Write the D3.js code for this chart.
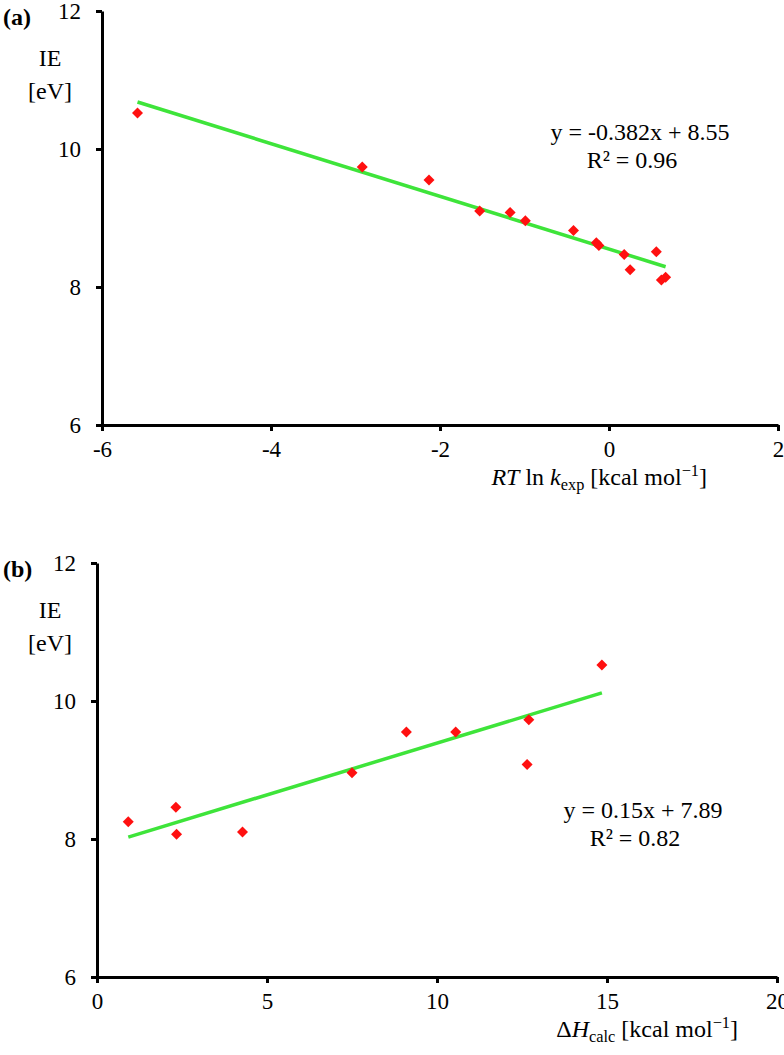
<!DOCTYPE html>
<html>
<head>
<meta charset="utf-8">
<script src="https://cdn.jsdelivr.net/npm/d3@7"></script>
<style>
  html, body { margin: 0; padding: 0; background: #fff; }
  svg text { font-family: "Liberation Serif", "Times New Roman", serif; fill: #000; }
</style>
</head>
<body>
<svg id="chart" width="784" height="1055"></svg>
<script>
// ---- Data ----
const yTicks = [6, 8, 10, 12];
const xTicksA = [-6, -4, -2, 0, 2];
const xTicksB = [0, 5, 10, 15, 20];

// Panel (a): RT ln k_exp vs IE
const rtlnkA = [-5.58, -2.92, -2.13, -1.53, -1.17, -0.99, -0.42, -0.15, -0.12, 0.18, 0.25, 0.56, 0.62, 0.67];
const ieA    = [10.52, 9.74, 9.55, 9.10, 9.08, 8.96, 8.82, 8.64, 8.60, 8.47, 8.25, 8.51, 8.10, 8.14];
const fitA = { slope: -0.382, intercept: 8.55, r2: 0.96 };

// Panel (b): ΔH_calc vs IE
const dhB = [0.92, 2.32, 2.34, 4.28, 7.5, 9.1, 10.55, 12.7, 12.65, 14.85];
const ieB = [8.25, 8.46, 8.07, 8.10, 8.96, 9.55, 9.55, 9.73, 9.08, 10.52];
const fitB = { slope: 0.15, intercept: 7.89, r2: 0.82 };

const svg = d3.select("#chart");
const FS = 24;
const TFS = 23;
const GREEN = "#3ee43a";
const RED = "#ff1010";

function panel(cfg) {
  const x = d3.scaleLinear().domain(cfg.xDomain).range(cfg.xRange);
  const y = d3.scaleLinear().domain([6, 12]).range(cfg.yRange);
  const g = svg.append("g");

  const yAxis = d3.axisLeft(y).tickValues(yTicks).tickSizeInner(6).tickSizeOuter(0)
    .tickPadding(15).tickFormat(d => String(d));
  const ya = g.append("g").attr("transform", `translate(${cfg.xRange[0]},0)`).call(yAxis);

  const xAxis = d3.axisBottom(x).tickValues(cfg.xTicks).tickSizeInner(6).tickSizeOuter(0)
    .tickPadding(10).tickFormat(d => String(d));
  const xa = g.append("g").attr("transform", `translate(0,${cfg.yRange[0]})`).call(xAxis);

  [ya, xa].forEach(a => {
    a.selectAll("path.domain").attr("stroke", "#000").attr("stroke-width", 3);
    a.selectAll(".tick line").attr("stroke", "#000").attr("stroke-width", 3);
    a.selectAll(".tick text").attr("font-size", TFS).attr("font-family", "Liberation Serif");
  });

  // trendline
  const xs = cfg.xs, ys = cfg.ys;
  const x0 = d3.min(xs), x1 = d3.max(xs);
  g.append("line")
    .attr("x1", x(x0)).attr("y1", y(cfg.fit.slope * x0 + cfg.fit.intercept))
    .attr("x2", x(x1)).attr("y2", y(cfg.fit.slope * x1 + cfg.fit.intercept))
    .attr("stroke", GREEN).attr("stroke-width", 3.5);

  // diamonds
  const r = 5.5;
  g.selectAll("path.pt").data(xs.map((v, i) => [v, ys[i]])).join("path")
    .attr("class", "pt")
    .attr("d", d => `M${x(d[0])},${y(d[1]) - r}L${x(d[0]) + r},${y(d[1])}L${x(d[0])},${y(d[1]) + r}L${x(d[0]) - r},${y(d[1])}Z`)
    .attr("fill", RED);

  // panel label
  g.append("text").attr("x", 3).attr("y", cfg.yRange[1] + 14)
    .attr("font-size", FS).attr("font-weight", "bold").text(cfg.tag);

  // y title
  g.append("text").attr("x", 50).attr("y", cfg.yRange[1] + 47).attr("dy", "0.35em")
    .attr("text-anchor", "middle").attr("font-size", FS).text("IE");
  g.append("text").attr("x", 50).attr("y", cfg.yRange[1] + 80).attr("dy", "0.35em")
    .attr("text-anchor", "middle").attr("font-size", FS).text("[eV]");

  // equation
  const eqSign = cfg.fit.intercept >= 0 ? "+" : "-";
  g.append("text").attr("x", cfg.eqX).attr("y", cfg.eqY).attr("dy", "0.35em")
    .attr("text-anchor", "middle").attr("font-size", FS)
    .text(`y = ${cfg.fit.slope}x ${eqSign} ${cfg.fit.intercept}`);
  g.append("text").attr("x", cfg.eqX - 8).attr("y", cfg.eqY + 28).attr("dy", "0.35em")
    .attr("text-anchor", "middle").attr("font-size", FS)
    .text(`R² = ${cfg.fit.r2.toFixed(2)}`);

  cfg.title(g, cfg.yRange[0] + 60);
}

panel({
  tag: "(a)", xDomain: [-6, 2], xRange: [102, 778], yRange: [425, 11], xTicks: xTicksA,
  xs: rtlnkA, ys: ieA, fit: fitA, eqX: 640, eqY: 132,
  title: (g, yy) => {
    const t = g.append("text").attr("x", 707).attr("y", yy).attr("text-anchor", "end").attr("font-size", FS);
    t.append("tspan").attr("font-style", "italic").text("RT");
    t.append("tspan").text(" ln ");
    t.append("tspan").attr("font-style", "italic").text("k");
    t.append("tspan").attr("font-size", FS * 0.68).attr("dy", 5).text("exp");
    t.append("tspan").attr("dy", -5).text(" [kcal mol");
    t.append("tspan").attr("font-size", FS * 0.68).attr("dy", -9).text("−1");
    t.append("tspan").attr("dy", 9).text("]");
  }
});

panel({
  tag: "(b)", xDomain: [0, 20], xRange: [97, 777], yRange: [977, 563], xTicks: xTicksB,
  xs: dhB, ys: ieB, fit: fitB, eqX: 643, eqY: 810,
  title: (g, yy) => {
    const t = g.append("text").attr("x", 738).attr("y", yy).attr("text-anchor", "end").attr("font-size", FS);
    t.append("tspan").text("Δ");
    t.append("tspan").attr("font-style", "italic").text("H");
    t.append("tspan").attr("font-size", FS * 0.68).attr("dy", 5).text("calc");
    t.append("tspan").attr("dy", -5).text(" [kcal mol");
    t.append("tspan").attr("font-size", FS * 0.68).attr("dy", -9).text("−1");
    t.append("tspan").attr("dy", 9).text("]");
  }
});
</script>
</body>
</html>
